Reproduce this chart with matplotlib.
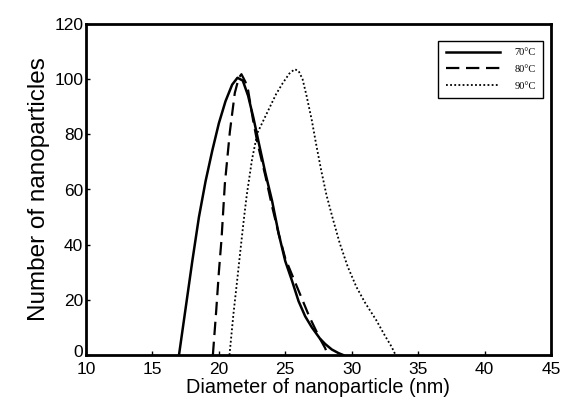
import matplotlib.pyplot as plt
import matplotlib.transforms as mtransforms

# size distributions
x_70 = [17.0, 17.5, 18.0, 18.5, 19.0, 19.5, 20.0, 20.5, 21.0, 21.4, 21.8, 22.2, 22.6,
        23.0, 23.5, 24.0, 24.5, 25.0, 25.5, 26.0, 26.5, 27.0, 27.6, 28.0, 28.5, 29.0, 29.35]
y_70 = [0, 17, 34, 50, 63, 74, 84, 92, 98, 100.5, 99.5, 94, 86,
        77, 66, 56, 44, 34, 27, 19.5, 14, 10, 6, 4, 2, 0.7, 0]

x_80 = [19.55, 19.8, 20.0, 20.2, 20.45, 20.83, 21.2, 21.5, 21.7, 22.0, 22.2, 22.58, 22.9,
        23.5, 24.0, 24.5, 25.0, 25.6, 26.2, 26.8, 27.3, 27.6, 28.0, 28.2]
y_80 = [0, 16, 30, 42, 62, 81, 95, 100.5, 101.8, 99, 96, 85, 77,
        65, 54, 44, 35, 28, 21, 14, 9, 6, 2.5, 0]

x_90 = [20.8, 21.1, 21.4, 21.6, 21.9, 22.1, 22.5, 22.9, 23.3, 23.8, 24.3, 24.8, 25.3, 25.7,
        26.0, 26.3, 26.6, 27.0, 27.3, 27.7, 28.1, 28.6, 29.1, 29.7, 30.35, 31.0, 31.85,
        32.5, 33.0, 33.3]
y_90 = [0, 15, 28, 37, 50, 58, 71, 80.5, 84.5, 89.5, 94.5, 98.5, 102, 103.6,
        103, 100, 94, 85, 77, 67, 58, 49, 40.5, 32, 24.7, 19, 12.6,
        7, 3, 0]

labels = ["70\u00b0C", "80\u00b0C", "90\u00b0C"]
x_ticks = [10, 15, 20, 25, 30, 35, 40, 45]
y_ticks = [0, 20, 40, 60, 80, 100, 120]

plt.rcParams["font.family"] = ["Liberation Sans", "DejaVu Sans"]

fig = plt.figure(figsize=(5.61, 4.11), dpi=100)
ax = fig.add_axes([86 / 561, 56 / 411, 465 / 561, 331 / 411])

ax.plot(x_70, y_70, color="black", lw=1.8, ls="-", label=labels[0])
ax.plot(x_80, y_80, color="black", lw=1.6, ls=(0, (6, 3)), label=labels[1])
ax.plot(x_90, y_90, color="black", lw=1.3, ls=(0, (1, 1.3)), label=labels[2])

ax.set_xlim(10, 45)
ax.set_ylim(0, 120)
ax.set_xticks(x_ticks)
ax.set_yticks(y_ticks)
ax.tick_params(direction="in", length=3, width=1, labelsize=12.5)
ax.tick_params(axis="x", pad=5)
ax.tick_params(axis="y", pad=2)
for s in ax.spines.values():
    s.set_linewidth(2)

# the "0" sits a little above the x axis in the original
ylab0 = ax.get_yticklabels()[0]
ylab0.set_transform(ylab0.get_transform() +
                    mtransforms.ScaledTranslation(0, 3 / 72, fig.dpi_scale_trans))

ax.set_xlabel("Diameter of nanoparticle (nm)", fontsize=14.3, labelpad=1)
ax.set_ylabel("Number of nanoparticles", fontsize=17.5, labelpad=3)

leg = ax.legend(loc="upper right", bbox_to_anchor=(0.983, 0.949), borderaxespad=0,
                prop={"family": "Liberation Serif", "size": 7.5}, handlelength=5.2,
                labelspacing=0.7, fancybox=False, edgecolor="black", framealpha=1,
                borderpad=0.7, handletextpad=1.4)
leg.get_frame().set_linewidth(1)

fig.savefig("out.png", dpi=100)
